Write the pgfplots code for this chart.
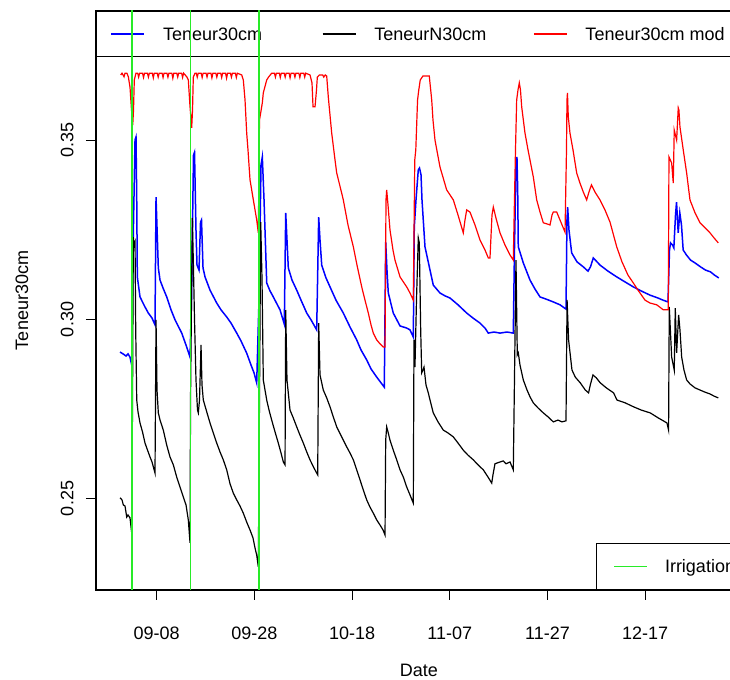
\documentclass[border=0pt]{standalone}
\usepackage{pgfplots}
\usepackage{pgfplotstable}
\pgfplotsset{compat=1.18}
\usepackage{fontspec}
\setmainfont{Liberation Sans}
\definecolor{rblue}{RGB}{0,0,255}
\definecolor{rred}{RGB}{255,0,0}
\definecolor{rgreen}{RGB}{40,235,40}

\pgfplotstableread{
d v
-7.51 0.2909
-6.90 0.2904
-6.28 0.2898
-5.88 0.2904
-5.47 0.2895
-5.12 0.2873
-4.85 0.3194
-4.44 0.3502
-4.24 0.3510
-4.09 0.3334
-3.97 0.3119
-3.42 0.3063
-2.40 0.3035
-1.72 0.3018
-0.96 0.3004
-0.35 0.2985
-0.14 0.3342
0.33 0.3144
0.68 0.3110
1.29 0.3088
2.05 0.3063
2.93 0.3027
3.75 0.2999
5.12 0.2962
6.14 0.2923
6.82 0.2895
7.12 0.3054
7.53 0.3459
7.74 0.3467
8.04 0.3250
8.25 0.3152
8.66 0.3138
8.97 0.3272
9.17 0.3278
9.48 0.3144
9.89 0.3119
10.91 0.3082
12.28 0.3046
13.16 0.3027
14.33 0.3007
15.21 0.2990
16.38 0.2962
17.26 0.2940
18.42 0.2906
19.30 0.2873
19.92 0.2851
20.47 0.2823
20.94 0.3054
21.35 0.3432
21.62 0.3454
21.97 0.3334
22.52 0.3102
23.19 0.3080
23.87 0.3063
24.63 0.3043
25.24 0.3027
26.12 0.2987
26.41 0.3298
26.67 0.3222
26.94 0.3144
27.70 0.3110
28.66 0.3082
29.54 0.3054
30.71 0.3018
31.59 0.2999
32.75 0.2971
33.16 0.3286
33.43 0.3222
33.78 0.3152
34.66 0.3116
35.48 0.3091
36.70 0.3054
38.20 0.3018
39.57 0.2979
40.94 0.2943
41.82 0.2915
42.99 0.2887
43.87 0.2862
45.04 0.2839
45.92 0.2823
46.59 0.2811
46.88 0.3216
47.14 0.3138
47.41 0.3074
48.43 0.3018
49.81 0.2982
51.18 0.2976
51.85 0.2971
52.53 0.2951
52.73 0.3258
53.08 0.3334
53.55 0.3418
53.80 0.3423
54.11 0.3404
54.31 0.3334
54.92 0.3203
55.95 0.3138
56.62 0.3096
57.99 0.3074
59.02 0.3066
60.04 0.3060
61.68 0.3041
63.46 0.3018
64.75 0.3004
66.18 0.2990
67.21 0.2976
67.88 0.2962
69.05 0.2965
70.28 0.2962
71.71 0.2965
73.00 0.2962
73.24 0.3194
73.55 0.3432
73.75 0.3454
73.90 0.3362
74.02 0.3203
75.05 0.3158
76.42 0.3110
77.44 0.3085
78.47 0.3063
79.70 0.3057
81.19 0.3049
82.56 0.3041
83.79 0.3029
83.99 0.3278
84.13 0.3314
84.40 0.3250
84.95 0.3186
86.04 0.3161
87.33 0.3147
88.29 0.3135
88.80 0.3147
89.38 0.3172
90.14 0.3161
90.75 0.3152
92.39 0.3135
94.17 0.3119
95.87 0.3105
97.57 0.3091
99.14 0.3080
100.99 0.3068
102.62 0.3060
103.65 0.3054
104.67 0.3049
104.98 0.3194
105.19 0.3214
105.60 0.3208
105.87 0.3200
106.21 0.3292
106.42 0.3328
106.76 0.3242
107.09 0.3298
107.43 0.3264
107.78 0.3194
108.46 0.3180
109.28 0.3166
110.20 0.3158
111.33 0.3147
112.35 0.3138
113.37 0.3133
114.19 0.3124
115.07 0.3116
}\teneur

\pgfplotstableread{
d v
-7.51 0.2502
-7.10 0.2496
-6.84 0.2482
-6.49 0.2479
-6.14 0.2448
-5.88 0.2454
-5.47 0.2446
-5.12 0.2404
-4.95 0.2775
-4.79 0.3230
-4.61 0.3208
-4.44 0.3216
-4.30 0.2971
-4.09 0.2775
-3.83 0.2742
-3.42 0.2711
-2.91 0.2686
-2.40 0.2655
-1.88 0.2635
-1.37 0.2616
-0.96 0.2602
-0.35 0.2571
-0.14 0.2999
0.06 0.2803
0.33 0.2739
0.68 0.2719
1.35 0.2691
2.05 0.2649
2.72 0.2616
3.40 0.2594
4.09 0.2560
4.77 0.2532
5.45 0.2504
6.00 0.2482
6.47 0.2440
6.82 0.2376
6.92 0.2775
7.29 0.3284
7.49 0.3166
7.74 0.2999
8.04 0.2831
8.35 0.2747
8.52 0.2739
8.76 0.2775
9.07 0.2929
9.27 0.2817
9.54 0.2775
10.24 0.2742
10.91 0.2711
11.59 0.2683
12.28 0.2655
12.96 0.2630
13.63 0.2608
14.33 0.2580
15.01 0.2541
15.68 0.2515
16.38 0.2496
17.05 0.2479
17.73 0.2459
18.42 0.2434
19.10 0.2412
19.71 0.2390
20.12 0.2362
20.47 0.2342
20.80 0.2309
21.04 0.2775
21.29 0.3272
21.56 0.3110
21.82 0.2831
22.52 0.2775
22.99 0.2747
23.54 0.2719
24.22 0.2686
24.89 0.2655
25.45 0.2627
25.92 0.2602
26.27 0.2594
26.41 0.3027
26.67 0.2831
27.29 0.2747
27.96 0.2725
28.66 0.2700
29.33 0.2677
30.01 0.2655
30.71 0.2630
31.38 0.2608
32.20 0.2585
32.96 0.2566
33.16 0.2990
33.43 0.2845
34.10 0.2803
34.80 0.2781
35.48 0.2756
36.15 0.2728
36.85 0.2700
37.87 0.2672
38.90 0.2644
39.57 0.2627
40.25 0.2608
40.94 0.2580
41.62 0.2552
42.29 0.2524
42.99 0.2496
43.66 0.2476
44.34 0.2459
45.04 0.2440
45.71 0.2426
46.33 0.2412
46.74 0.2398
46.88 0.2663
47.08 0.2700
47.35 0.2686
47.76 0.2663
48.43 0.2635
49.13 0.2608
49.81 0.2580
50.48 0.2560
51.18 0.2532
51.85 0.2510
52.53 0.2487
52.67 0.2943
52.87 0.2867
53.18 0.3054
53.55 0.3228
53.76 0.3214
54.04 0.2971
54.25 0.2851
54.51 0.2859
54.72 0.2867
55.13 0.2817
55.60 0.2795
55.95 0.2775
56.62 0.2739
57.59 0.2714
58.67 0.2691
59.64 0.2683
60.72 0.2672
61.68 0.2655
62.76 0.2635
63.73 0.2621
64.81 0.2608
65.77 0.2594
66.86 0.2580
67.82 0.2560
68.58 0.2543
68.84 0.2566
69.25 0.2597
70.28 0.2602
70.95 0.2605
71.51 0.2597
72.33 0.2602
73.00 0.2580
73.24 0.2831
73.55 0.3166
73.82 0.2901
74.02 0.2907
74.37 0.2873
75.05 0.2831
75.81 0.2803
76.42 0.2784
77.10 0.2767
78.06 0.2753
79.15 0.2739
80.11 0.2728
81.19 0.2714
82.15 0.2719
82.97 0.2714
83.79 0.2717
84.01 0.3055
84.32 0.2943
85.01 0.2859
85.69 0.2839
86.71 0.2823
87.74 0.2803
88.41 0.2795
88.76 0.2817
89.31 0.2845
89.99 0.2837
90.81 0.2823
92.04 0.2809
93.53 0.2795
94.23 0.2775
95.93 0.2767
97.63 0.2756
99.20 0.2747
101.04 0.2739
102.68 0.2725
103.70 0.2717
104.46 0.2711
104.79 0.2691
104.93 0.3035
105.42 0.2895
105.95 0.2859
106.16 0.3032
106.44 0.2907
106.85 0.3013
107.12 0.2971
107.47 0.2895
107.94 0.2859
108.49 0.2831
109.17 0.2820
110.20 0.2809
111.22 0.2803
112.25 0.2797
113.27 0.2792
114.09 0.2786
114.97 0.2781
}\teneurN

\pgfplotstableread{
d v
-7.37 0.3683
-7.10 0.3688
-6.69 0.3678
-6.49 0.3688
-6.10 0.3688
-5.81 0.3678
-5.47 0.3649
-5.16 0.3585
-4.91 0.3543
-4.75 0.3585
-4.59 0.3669
-4.24 0.3688
-3.9 0.3688
-3.7 0.3677
-3.5 0.3688
-2.9 0.3688
-2.7 0.3676
-2.5 0.3688
-1.9 0.3688
-1.7 0.3677
-1.5 0.3688
-0.9 0.3688
-0.7 0.3675
-0.5 0.3688
0.1 0.3688
0.3 0.3677
0.5 0.3688
1.1 0.3688
1.3 0.3676
1.5 0.3688
2.1 0.3688
2.3 0.3677
2.5 0.3688
3.1 0.3688
3.3 0.3674
3.5 0.3688
4.1 0.3688
4.3 0.3677
4.5 0.3688
5.1 0.3688
5.3 0.3676
5.5 0.3688
6.14 0.3678
6.47 0.3669
6.82 0.3594
7.16 0.3535
7.33 0.3585
7.49 0.3677
7.84 0.3688
8.1 0.3688
8.3 0.3677
8.5 0.3688
9.1 0.3688
9.3 0.3676
9.5 0.3688
10.1 0.3688
10.3 0.3677
10.5 0.3688
11.1 0.3688
11.3 0.3675
11.5 0.3688
12.1 0.3688
12.3 0.3677
12.5 0.3688
13.1 0.3688
13.3 0.3676
13.5 0.3688
14.1 0.3688
14.3 0.3674
14.5 0.3688
15.1 0.3688
15.3 0.3677
15.5 0.3688
16.1 0.3688
16.3 0.3676
16.5 0.3688
17.40 0.3683
17.73 0.3669
18.08 0.3613
18.42 0.3521
18.69 0.3473
19.10 0.3390
19.78 0.3334
20.47 0.3278
20.80 0.3242
21.04 0.3557
21.62 0.3605
21.82 0.3633
22.52 0.3669
22.89 0.3677
23.54 0.3688
24.1 0.3688
24.3 0.3677
24.5 0.3688
25.1 0.3688
25.3 0.3676
25.5 0.3688
26.1 0.3688
26.3 0.3677
26.5 0.3688
27.1 0.3688
27.3 0.3675
27.5 0.3688
28.1 0.3688
28.3 0.3677
28.5 0.3688
29.1 0.3688
29.3 0.3676
29.5 0.3688
30.1 0.3688
30.3 0.3677
30.5 0.3688
31.38 0.3683
31.79 0.3661
32.00 0.3594
32.41 0.3594
32.71 0.3641
32.88 0.3677
33.3 0.3683
34.0 0.3683
34.2 0.3677
34.5 0.3683
34.80 0.3680
35.13 0.3621
35.82 0.3521
36.50 0.3446
36.85 0.3409
37.87 0.3353
38.20 0.3334
39.16 0.3264
40.25 0.3203
41.00 0.3152
41.97 0.3091
42.64 0.3054
43.32 0.3018
43.87 0.2985
44.34 0.2962
45.04 0.2943
45.71 0.2932
46.39 0.2923
46.74 0.2923
46.94 0.3334
47.08 0.3362
47.35 0.3320
47.76 0.3250
48.37 0.3194
48.78 0.3166
49.81 0.3119
51.18 0.3091
51.85 0.3074
52.53 0.3054
52.83 0.3446
53.04 0.3474
53.40 0.3613
53.65 0.3641
53.95 0.3669
54.50 0.3680
55.80 0.3680
56.30 0.3613
56.56 0.3557
56.97 0.3501
57.99 0.3426
59.36 0.3362
60.72 0.3334
61.68 0.3292
62.76 0.3242
63.11 0.3278
63.46 0.3306
64.13 0.3300
65.16 0.3264
66.18 0.3222
67.21 0.3194
67.88 0.3172
68.23 0.3172
68.64 0.3292
68.91 0.3314
69.46 0.3283
70.28 0.3242
71.30 0.3208
72.33 0.3180
73.00 0.3166
73.24 0.3334
73.45 0.3474
73.69 0.3613
73.96 0.3641
74.23 0.3661
74.47 0.3641
74.72 0.3594
75.39 0.3521
76.01 0.3474
77.10 0.3398
77.79 0.3334
78.47 0.3300
79.15 0.3270
79.90 0.3267
80.52 0.3264
80.93 0.3292
81.19 0.3300
81.89 0.3300
82.56 0.3278
83.59 0.3244
83.89 0.3474
83.99 0.3613
84.09 0.3633
84.26 0.3566
84.60 0.3521
85.22 0.3474
85.98 0.3409
86.65 0.3381
87.33 0.3356
88.02 0.3334
88.49 0.3356
89.00 0.3376
89.72 0.3356
90.75 0.3334
91.77 0.3306
92.80 0.3272
94.17 0.3203
95.25 0.3161
96.48 0.3124
97.57 0.3102
98.53 0.3082
99.97 0.3054
100.99 0.3046
102.36 0.3041
103.71 0.3027
104.73 0.3027
104.87 0.3454
105.42 0.3437
105.75 0.3381
105.95 0.3529
106.44 0.3501
106.77 0.3591
106.91 0.3585
107.12 0.3538
107.80 0.3473
108.49 0.3409
109.17 0.3334
110.20 0.3298
111.22 0.3270
112.25 0.3256
113.27 0.3242
114.09 0.3228
114.97 0.3214
}\teneurmod

\begin{document}
\begin{tikzpicture}[font=\fontsize{9}{11}\selectfont]
\path[use as bounding box] (0,0) rectangle (365pt,340pt);
\clip (0,0) rectangle (365pt,340pt);
\pgfplotsset{
  common/.style={
    at={(48pt,45pt)}, anchor=south west,
    scale only axis, width=323pt, height=289.5pt,
    xmin=-12.43, xmax=119.82, ymin=0.22444, ymax=0.38617,
    legend image code/.code={\draw[##1] (0pt,0pt) -- (16.5pt,0pt);},
    legend cell align=left,
  }
}
\begin{axis}[common,
  /pgf/number format/assume math mode=true,
  axis line style={line width=0.6pt, black},
  tick align=outside, major tick length=5pt,
  tick style={line width=0.6pt, black},
  xtick pos=lower, ytick pos=lower,
  xtick={0,20,40,60,80,100},
  xticklabels={09-08,09-28,10-18,11-07,11-27,12-17},
  ytick={0.25,0.30,0.35},
  yticklabels={0.25,0.30,0.35},
  xticklabel shift=10pt,
  yticklabel shift=2.75pt,
  yticklabel style={rotate=90, anchor=south},
  xlabel={Date}, ylabel={Teneur30cm},
  every axis x label/.style={at={(axis description cs:0.5,-0.1382)}, anchor=center},
  every axis y label/.style={at={(axis description cs:-0.1146,0.5)}, rotate=90, anchor=center},
  legend columns=3,
  legend style={at={(rel axis cs:0,1)}, anchor=north west, draw=black,
    line width=0.6pt, fill=none, inner xsep=7pt, inner ysep=8.02pt,
    column sep=9pt,
    nodes={inner sep=0pt, text height=6.45pt, text depth=0pt}},
]
\addplot[rblue, line width=0.75pt] table[x=d, y=v] {\teneur};
\addlegendentry{\makebox[70.5pt][l]{Teneur30cm}}
\addplot[black, line width=0.6pt] table[x=d, y=v] {\teneurN};
\addlegendentry{\makebox[70.5pt][l]{TeneurN30cm}}
\addplot[rred, line width=0.6pt] table[x=d, y=v] {\teneurmod};
\addlegendentry{\makebox[70.5pt][l]{Teneur30cm mod}}
\end{axis}
\begin{axis}[common, hide axis,
  legend style={at={(rel axis cs:0.774,0)}, anchor=south west, draw=black,
    line width=0.6pt, fill=none, inner xsep=8.5pt, inner ysep=8.3pt,
    column sep=8.5pt,
    nodes={inner sep=0pt, text height=6.45pt, text depth=0pt}},
]
\addplot[rgreen, line width=0.7pt] coordinates {(-5.1,0.2) (-5.1,0.4)};
\addlegendentry{\makebox[42pt][l]{Irrigation}}
\addplot[rgreen, line width=0.7pt, forget plot] coordinates {(6.88,0.2) (6.88,0.4)};
\addplot[rgreen, line width=0.7pt, forget plot] coordinates {(20.9,0.2) (20.9,0.4)};
\end{axis}
\end{tikzpicture}
\end{document}
